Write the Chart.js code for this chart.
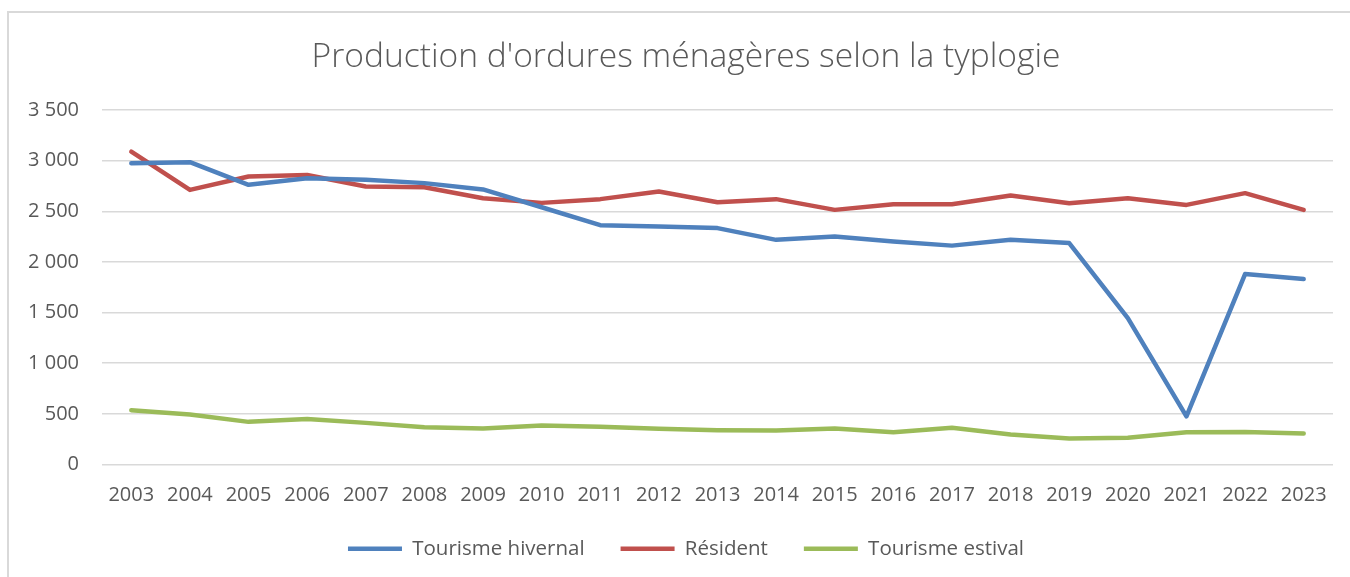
<!DOCTYPE html>
<html>
<head>
<meta charset="utf-8">
<script src="https://cdn.jsdelivr.net/npm/chart.js@4.4.1/dist/chart.umd.min.js"></script>
<style>
  html, body { margin: 0; padding: 0; background: #ffffff; }
  #wrap { position: relative; width: 1350px; height: 577px; overflow: hidden; }
  #frame { position: absolute; left: 7px; top: 11px; width: 1400px; height: 600px;
           border-left: 2px solid #d9d9d9; border-top: 2px solid #d9d9d9; }
  canvas { position: absolute; left: 0; top: 0; }
</style>
</head>
<body>
<div id="wrap">
  <div id="frame"></div>
  <canvas id="c" width="1350" height="577"></canvas>
</div>
<script>
const years = ['2003','2004','2005','2006','2007','2008','2009','2010','2011','2012','2013',
               '2014','2015','2016','2017','2018','2019','2020','2021','2022','2023'];
const tourismeHivernal = [2975, 2985, 2761, 2827, 2812, 2778, 2716, 2540, 2363, 2350, 2334,
                          2218, 2251, 2202, 2161, 2218, 2186, 1446, 476, 1880, 1831];
const resident = [3089, 2711, 2843, 2859, 2744, 2738, 2629, 2583, 2620, 2695, 2590,
                  2620, 2514, 2570, 2570, 2656, 2580, 2629, 2563, 2679, 2514];
const tourismeEstival = [536, 493, 421, 450, 411, 368, 355, 385, 372, 352, 338,
                         335, 355, 319, 362, 296, 256, 263, 319, 322, 306];
const seriesNames = ['Tourisme hivernal', 'Résident', 'Tourisme estival'];
const titleText = "Production d'ordures ménagères selon la typlogie";

const FONT = "'Open Sans', 'Liberation Sans', sans-serif";
const TXT = '#595959';

// fit title width to ~749px
const mctx = document.createElement('canvas').getContext('2d');
mctx.font = "300 100px " + FONT;
const titleSize = Math.round(100 * 749 / mctx.measureText(titleText).width * 10) / 10;

function fmt(v) { return String(v).replace(/\B(?=(\d{3})+(?!\d))/g, ' '); }

function ds(label, data, color) {
  return {
    label, data, yAxisID: 'y',
    borderColor: color, backgroundColor: color,
    borderWidth: 4.5, borderCapStyle: 'round', borderJoinStyle: 'round',
    pointRadius: 0, pointHoverRadius: 0, tension: 0, fill: false
  };
}

new Chart(document.getElementById('c'), {
  type: 'line',
  data: {
    labels: years,
    datasets: [
      ds(seriesNames[0], tourismeHivernal, '#4f81bd'),
      ds(seriesNames[1], resident, '#c0504d'),
      ds(seriesNames[2], tourismeEstival, '#9bbb59')
    ]
  },
  options: {
    responsive: false,
    animation: false,
    layout: { padding: { top: 0, right: 0, bottom: 8, left: 22 } },
    plugins: {
      title: {
        display: true, text: titleText, color: TXT,
        font: { family: FONT, size: titleSize, weight: 300, lineHeight: 1.2 },
        padding: { top: 57 - titleSize * 0.6, bottom: 110 - 57 - titleSize * 0.6 }
      },
      legend: {
        position: 'bottom',
        labels: {
          color: TXT, font: { family: FONT, size: 20.5 },
          usePointStyle: true, pointStyle: 'line', pointStyleWidth: 54,
          padding: 36
        }
      },
      tooltip: { enabled: false }
    },
    scales: {
      x: {
        offset: true,
        grid: { display: false, drawTicks: false },
        border: { display: false },
        ticks: { color: TXT, font: { family: FONT, size: 20 }, padding: 19, maxRotation: 0, autoSkip: false },
        afterFit(s) { s.height = 38; }
      },
      y: {
        position: 'left',
        min: 0, max: 3500,
        grid: { color: '#d9d9d9', lineWidth: 1.5, drawTicks: false },
        border: { display: false },
        ticks: { stepSize: 500, color: TXT, font: { family: FONT, size: 20 }, padding: 23,
                 callback: (v) => fmt(v) },
        afterFit(s) { s.width = 80; }
      },
      spacer: {
        position: 'right',
        grid: { display: false, drawTicks: false },
        border: { display: false },
        ticks: { display: false },
        afterFit(s) { s.width = 17; }
      }
    }
  }
});
</script>
</body>
</html>
